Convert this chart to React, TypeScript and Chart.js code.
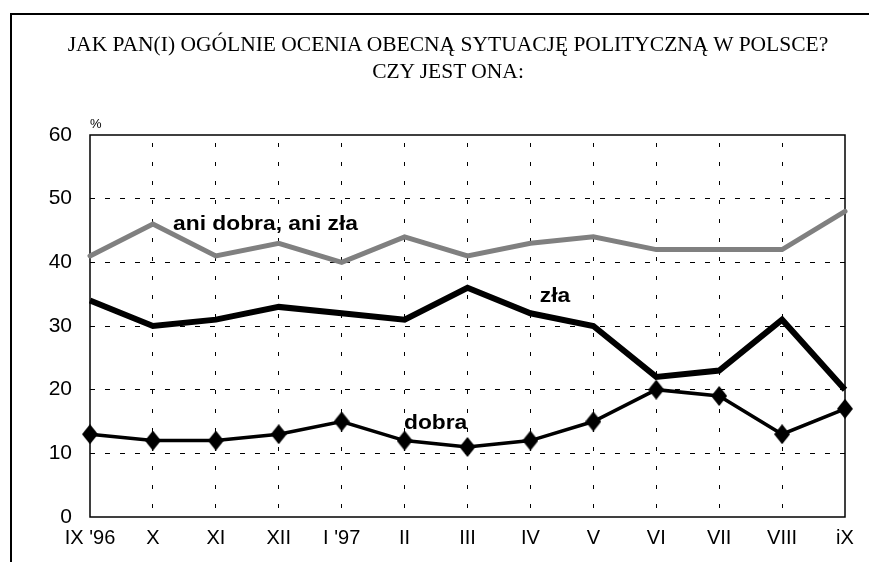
import React, { useEffect, useRef } from "react";
import { Chart, registerables } from "chart.js";

Chart.register(...registerables);

const categories = ["IX '96", "X", "XI", "XII", "I '97", "II", "III", "IV", "V", "VI", "VII", "VIII", "iX"];
const aniDobraAniZla = [41, 46, 41, 43, 40, 44, 41, 43, 44, 42, 42, 42, 48];
const zla = [34, 30, 31, 33, 32, 31, 36, 32, 30, 22, 23, 31, 20];
const dobra = [13, 12, 12, 13, 15, 12, 11, 12, 15, 20, 19, 13, 17];
const yMin = 0;
const yMax = 60;
const yStep = 10;

const seriesLabels = ["ani dobra, ani zła", "zła", "dobra"];

function makeDiamond(): HTMLCanvasElement {
  const c = document.createElement("canvas");
  const w = 16;
  const h = 20;
  c.width = w;
  c.height = h;
  const g = c.getContext("2d")!;
  g.fillStyle = "#000";
  g.beginPath();
  g.moveTo(w / 2, 0);
  g.lineTo(w, h / 2);
  g.lineTo(w / 2, h);
  g.lineTo(0, h / 2);
  g.closePath();
  g.fill();
  return c;
}

const framePlugin = {
  id: "frameAndLabels",
  beforeDatasetsDraw(chart: any) {
    const { ctx, chartArea } = chart;
    ctx.save();
    ctx.strokeStyle = "#000";
    ctx.lineWidth = 1.5;
    ctx.strokeRect(chartArea.left, chartArea.top, chartArea.right - chartArea.left, chartArea.bottom - chartArea.top);
    ctx.fillStyle = "#000";
    ctx.font = "13px 'Liberation Sans', Arial, sans-serif";
    ctx.textAlign = "left";
    ctx.textBaseline = "alphabetic";
    ctx.fillText("%", chartArea.left, chartArea.top - 7);
    ctx.restore();
  },
  afterDatasetsDraw(chart: any) {
    const { ctx } = chart;
    const xs = chart.scales.x;
    const ys = chart.scales.y;
    const anchors = [
      { text: seriesLabels[0], i: 1.32, v: 45.1 },
      { text: seriesLabels[1], i: 7.15, v: 33.8 },
      { text: seriesLabels[2], i: 4.99, v: 13.8 },
    ];
    ctx.save();
    ctx.fillStyle = "#000";
    ctx.font = "bold 20px 'Liberation Sans', Arial, sans-serif";
    ctx.textAlign = "left";
    ctx.textBaseline = "alphabetic";
    for (const a of anchors) {
      const x0 = xs.getPixelForValue(0);
      const x1 = xs.getPixelForValue(1);
      const px = x0 + (x1 - x0) * a.i;
      const py = ys.getPixelForValue(a.v);
      ctx.save();
      ctx.translate(px, py);
      ctx.scale(1.14, 1);
      ctx.fillText(a.text, 0, 0);
      ctx.restore();
    }
    ctx.restore();
  },
};

export default function App() {
  const ref = useRef<HTMLCanvasElement | null>(null);

  useEffect(() => {
    if (!ref.current) return;
    const diamond = makeDiamond();
    const lastIndex = categories.length - 1;
    const chart = new Chart(ref.current, {
      type: "line",
      data: {
        labels: categories,
        datasets: [
          {
            label: seriesLabels[0],
            data: aniDobraAniZla,
            borderColor: "#808080",
            borderWidth: 5,
            borderCapStyle: "round",
            pointRadius: 0,
            tension: 0,
            clip: false as any,
          },
          {
            label: seriesLabels[1],
            data: zla,
            borderColor: "#000",
            borderWidth: 6,
            pointRadius: 0,
            tension: 0,
            clip: false as any,
          },
          {
            label: seriesLabels[2],
            data: dobra,
            borderColor: "#000",
            borderWidth: 3.5,
            pointStyle: diamond as any,
            pointRadius: 9,
            tension: 0,
            clip: false as any,
          },
        ],
      },
      options: {
        animation: false,
        responsive: false,
        events: [],
        layout: { padding: { top: 135, right: 24, left: 0, bottom: 0 } },
        plugins: {
          legend: { display: false },
          tooltip: { enabled: false },
          title: { display: false },
        },
        scales: {
          x: {
            type: "category",
            offset: false,
            grid: {
              color: (c: any) => (c.index === 0 || c.index === lastIndex ? "rgba(0,0,0,0)" : "#000"),
              lineWidth: 1,
              drawTicks: false,
            },
            border: { display: false, dash: [4, 15], dashOffset: 11 },
            ticks: {
              color: "#000",
              font: { family: "'Liberation Sans', Arial, sans-serif", size: 20 },
              padding: 9,
              maxRotation: 0,
              autoSkip: false,
            },
            afterFit: (s: any) => {
              s.height = 45;
            },
          },
          y: {
            min: yMin,
            max: yMax,
            grid: {
              color: (c: any) =>
                c.tick && (c.tick.value === yMin || c.tick.value === yMax) ? "rgba(0,0,0,0)" : "#000",
              lineWidth: 1,
              drawTicks: false,
            },
            border: { display: false, dash: [5, 10] },
            ticks: {
              stepSize: yStep,
              color: "#000",
              font: { family: "'Liberation Sans', Arial, sans-serif", size: 21 },
              padding: 18,
            },
            afterFit: (s: any) => {
              s.width = 90;
            },
          },
        },
      },
      plugins: [framePlugin],
    });
    return () => chart.destroy();
  }, []);

  return (
    <div
      style={{
        position: "fixed",
        left: 0,
        top: 0,
        width: 869,
        height: 562,
        background: "#fff",
        overflow: "hidden",
      }}
    >
      <div
        style={{
          position: "absolute",
          left: 10,
          top: 13,
          width: 900,
          height: 600,
          borderTop: "2px solid #000",
          borderLeft: "2px solid #000",
          boxSizing: "border-box",
        }}
      />
      <canvas
        ref={ref}
        width={869}
        height={562}
        style={{ position: "absolute", left: 0, top: 0, width: 869, height: 562 }}
      />
      <div
        style={{
          position: "absolute",
          left: 0,
          top: 31,
          width: 896,
          textAlign: "center",
          fontFamily: "'Liberation Serif', 'Times New Roman', serif",
          fontSize: 20,
          lineHeight: "27px",
          color: "#000",
          whiteSpace: "nowrap",
          transform: "scaleX(1.075)",
          transformOrigin: "448px 0",
        }}
      >
        <div>JAK PAN(I) OGÓLNIE OCENIA OBECNĄ SYTUACJĘ POLITYCZNĄ W POLSCE?</div>
        <div>CZY JEST ONA:</div>
      </div>
    </div>
  );
}
